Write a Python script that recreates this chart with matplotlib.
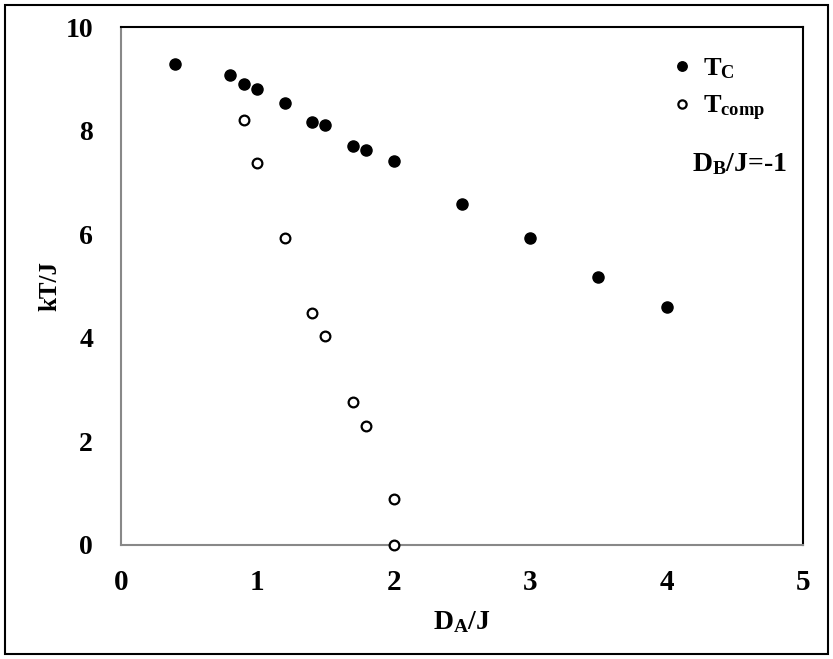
import matplotlib.pyplot as plt
from matplotlib.patches import Rectangle

# data
da_tc = [0.4, 0.8, 0.9, 1.0, 1.2, 1.4, 1.5, 1.7, 1.8, 2.0, 2.5, 3.0, 3.5, 4.0]
tc = [9.28, 9.08, 8.90, 8.80, 8.53, 8.16, 8.10, 7.70, 7.62, 7.41, 6.58, 5.92, 5.18, 4.60]

da_comp = [0.9, 1.0, 1.2, 1.4, 1.5, 1.7, 1.8, 2.0, 2.0]
tcomp = [8.20, 7.37, 5.92, 4.47, 4.04, 2.77, 2.30, 0.89, 0.0]

plt.rcParams['font.family'] = ['Liberation Serif', 'DejaVu Serif']
plt.rcParams['font.weight'] = 'bold'
plt.rcParams['mathtext.fontset'] = 'custom'
plt.rcParams['mathtext.rm'] = 'Liberation Serif:bold'
plt.rcParams['mathtext.bf'] = 'Liberation Serif:bold'

fig = plt.figure(figsize=(8.33, 6.59), dpi=100)
ax = fig.add_axes([0.145, 0.173, 0.819, 0.786])

ax.plot(da_tc, tc, 'o', color='black', markersize=8, label=r'$\mathrm{T_C}$', clip_on=False)
ax.plot(da_comp, tcomp, 'o', markerfacecolor='white', markeredgecolor='black',
        markeredgewidth=1.6, markersize=7, label=r'$\mathrm{T_{comp}}$', clip_on=False, zorder=5)

ax.set_xlim(0, 5)
ax.set_ylim(0, 10)
ax.set_xticks(range(0, 6))
ax.set_yticks(range(0, 11, 2))
ax.tick_params(axis='x', length=0, labelsize=21, pad=17)
ax.tick_params(axis='y', length=0, labelsize=20, pad=20)
for lab in ax.get_xticklabels() + ax.get_yticklabels():
    lab.set_fontweight('bold')

for s in ['left', 'bottom']:
    ax.spines[s].set_color('#888888')
    ax.spines[s].set_linewidth(1.5)
for s in ['top', 'right']:
    ax.spines[s].set_color('black')
    ax.spines[s].set_linewidth(1.5)

ax.set_xlabel(r'$\mathrm{D_A}$/J', fontsize=20, fontweight='bold', labelpad=10)
ax.set_ylabel('kT/J', fontsize=18, fontweight='bold', labelpad=3)

leg = ax.legend(loc='upper right', bbox_to_anchor=(0.979, 0.99), frameon=False,
                fontsize=19, markerscale=0.85, handletextpad=0.3, labelspacing=0.5,
                handlelength=1.0)

ax.text(0.977, 0.735, r'$\mathrm{D_B}$/J=-1', transform=ax.transAxes, fontsize=20,
        ha='right', va='center')

# outer border around the whole picture
fig.patches.append(Rectangle((0.006, 0.008), 0.988, 0.984, transform=fig.transFigure,
                             fill=False, edgecolor='black', linewidth=1.5))

plt.savefig('out.png', dpi=100)
